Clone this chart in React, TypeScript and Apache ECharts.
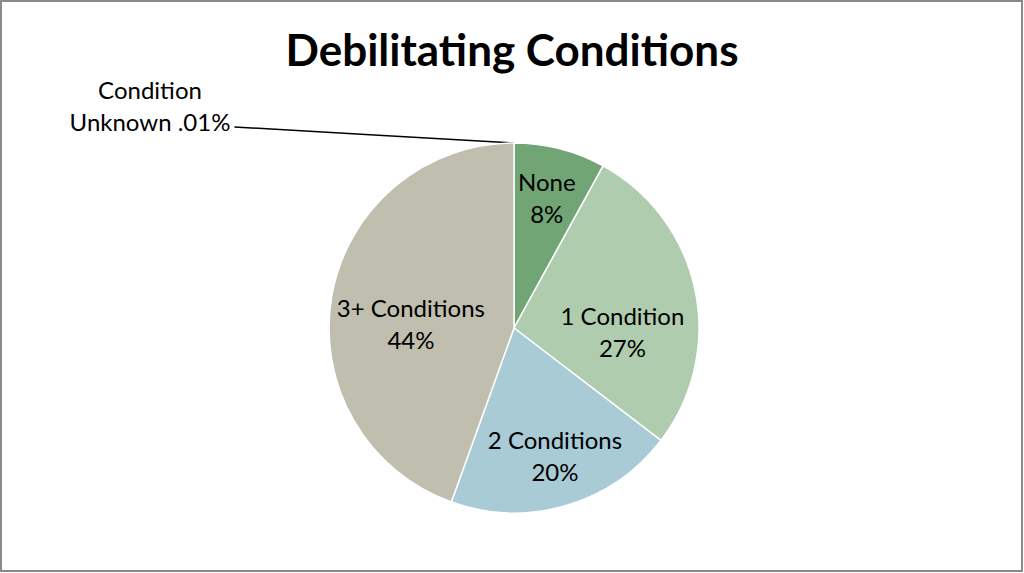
import React, { useEffect, useRef } from "react";
import * as echarts from "echarts";

const categories = ["None", "1 Condition", "2 Conditions", "3+ Conditions", "Condition Unknown"];
const values = [8.0, 27.4, 20.1, 44.49, 0.01];
const labelTexts = ["None\n8%", "1 Condition\n27%", "2 Conditions\n20%", "3+ Conditions\n44%", "Condition\nUnknown .01%"];
const colors = ["#71a575", "#afcdae", "#a8cbd6", "#c0beae", "#c0beae"];
// label offsets (style only)
const labelShift: Array<[number, number]> = [[9, -38], [15, 23], [14, 36], [-9, 12], [0, 0]];
const outsideLabelPos: [number, number] = [150, 105];

export default function App() {
  const ref = useRef<HTMLDivElement>(null);
  useEffect(() => {
    if (!ref.current) return;
    const chart = echarts.init(ref.current, undefined, { renderer: "svg" });
    const font = "Lato, 'Open Sans', sans-serif";
    chart.setOption({
      animation: false,
      backgroundColor: "#ffffff",
      title: {
        text: "Debilitating Conditions",
        left: "center",
        top: 22,
        textStyle: { fontFamily: font, fontWeight: "bold", fontSize: 44, color: "#000" },
      },
      graphic: [
        {
          type: "rect",
          shape: { x: 1, y: 1, width: 1021, height: 570 },
          style: { fill: "none", stroke: "#8a8a8a", lineWidth: 2 },
          silent: true,
        },
      ],
      series: [
        {
          type: "pie",
          center: [514, 328],
          radius: 185,
          startAngle: 90,
          clockwise: true,
          minShowLabelAngle: 0,
          avoidLabelOverlap: false,
          itemStyle: { borderColor: "#ffffff", borderWidth: 1.5 },
          label: {
            show: true,
            position: "inside",
            fontFamily: font,
            fontSize: 24,
            lineHeight: 32,
            color: "#000",
            align: "center",
            formatter: (p: any) => labelTexts[p.dataIndex],
          },
          labelLayout: (p: any) => {
            if (p.dataIndex === 4) {
              const [lx, ly] = outsideLabelPos;
              const w = p.labelRect ? p.labelRect.width : 160;
              const start = p.labelLinePoints && p.labelLinePoints[0] ? p.labelLinePoints[0] : [514, 143];
              const end = [lx + w / 2 + 4, ly + 22];
              const mid = [(start[0] + end[0]) / 2, (start[1] + end[1]) / 2];
              return {
                x: lx,
                y: ly,
                align: "center",
                verticalAlign: "middle",
                labelLinePoints: [start, mid, end],
              };
            }
            const s = labelShift[p.dataIndex];
            return { dx: s[0], dy: s[1] };
          },
          data: categories.map((c, i) => ({
            name: c,
            value: values[i],
            itemStyle: { color: colors[i] },
            ...(i === 4
              ? {
                  label: { position: "outside", align: "center" },
                  labelLine: { show: true, length: 10, length2: 10, lineStyle: { color: "#000", width: 1.5 } },
                  itemStyle: { color: colors[i], borderWidth: 0 },
                }
              : {}),
          })),
        },
      ],
    });
    return () => chart.dispose();
  }, []);
  return <div ref={ref} style={{ position: "absolute", left: 0, top: 0, width: 1024, height: 573 }} />;
}
